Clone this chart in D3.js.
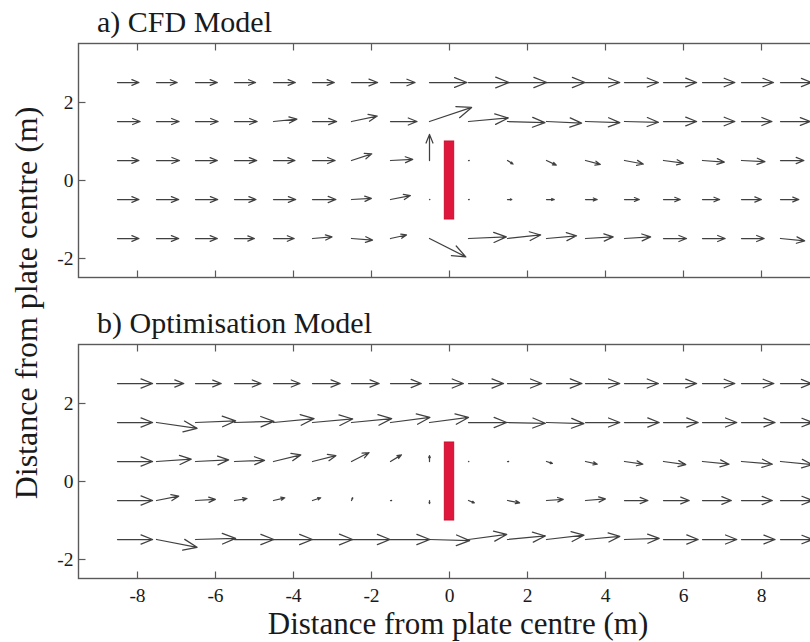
<!DOCTYPE html>
<html>
<head>
<meta charset="utf-8">
<script src="https://cdnjs.cloudflare.com/ajax/libs/d3/7.8.5/d3.min.js"></script>
<style>
  body { margin: 0; background: #fff; }
</style>
</head>
<body>
<div id="chart"></div>
<script>
// grid of the quiver plot
var xGrid = [-8.5, -7.5, -6.5, -5.5, -4.5, -3.5, -2.5, -1.5, -0.5, 0.5, 1.5, 2.5, 3.5, 4.5, 5.5, 6.5, 7.5, 8.5];
var yRows = [2.5, 1.5, 0.5, -0.5, -1.5];
var xTicks = [-8, -6, -4, -2, 0, 2, 4, 6, 8];
var yTicks = [-2, 0, 2];

// a) CFD model, one array per row (top to bottom)
var cfdU = [
  [0.55, 0.53, 0.56, 0.54, 0.56, 0.56, 0.67, 0.63, 0.96, 1.04, 1.01, 0.99, 0.88, 0.87, 0.85, 0.83, 0.82, 0.80],
  [0.58, 0.58, 0.58, 0.58, 0.60, 0.62, 0.66, 0.68, 1.08, 1.02, 0.96, 0.90, 0.88, 0.87, 0.85, 0.83, 0.78, 0.76],
  [0.55, 0.59, 0.56, 0.57, 0.55, 0.58, 0.52, 0.57, 0.00, 0.02, 0.14, 0.25, 0.38, 0.48, 0.51, 0.56, 0.60, 0.60],
  [0.55, 0.57, 0.57, 0.55, 0.57, 0.60, 0.51, 0.51, 0.01, 0.02, 0.11, 0.20, 0.30, 0.38, 0.43, 0.44, 0.51, 0.47],
  [0.55, 0.57, 0.56, 0.51, 0.53, 0.50, 0.54, 0.41, 0.93, 0.97, 0.85, 0.77, 0.71, 0.67, 0.59, 0.58, 0.58, 0.62]
];
var cfdV = [
  [0, 0, 0, 0, 0, 0, 0, 0, 0, 0, 0, 0, 0, 0, 0, 0, 0, 0],
  [0, 0, 0, 0, 0.06, 0, 0.14, 0, 0.36, 0.09, -0.03, -0.04, -0.03, -0.02, 0, 0, 0, 0],
  [0, 0, 0, 0, 0, 0, 0.17, 0.03, 0.67, 0, -0.09, -0.12, -0.10, -0.09, -0.07, -0.04, -0.03, 0],
  [0, 0, 0, 0, 0, 0, 0.03, 0.10, 0, 0, 0, 0, 0, 0, 0, 0, 0, 0],
  [0, 0, 0, 0, 0, 0.04, -0.04, 0.09, -0.47, 0.04, 0.09, 0.07, 0.04, 0.04, 0, 0, 0, -0.06]
];

// b) optimisation model
var optU = [
  [0.90, 0.70, 0.66, 0.68, 0.68, 0.71, 0.71, 0.79, 0.87, 0.90, 0.88, 0.91, 0.88, 0.87, 0.85, 0.83, 0.83, 0.80],
  [0.90, 1.04, 1.03, 1.01, 1.04, 1.03, 1.03, 1.01, 1.00, 0.98, 0.97, 0.96, 0.88, 0.89, 0.89, 0.88, 0.86, 0.82],
  [0.90, 0.89, 0.85, 0.77, 0.70, 0.60, 0.45, 0.28, 0.00, 0.01, 0.03, 0.15, 0.30, 0.47, 0.57, 0.68, 0.79, 0.82],
  [0.90, 0.57, 0.51, 0.32, 0.29, 0.21, 0.03, 0.03, 0.00, 0.15, 0.31, 0.43, 0.51, 0.60, 0.66, 0.74, 0.79, 0.82],
  [0.90, 1.04, 1.03, 1.01, 1.00, 1.03, 0.99, 1.01, 1.03, 0.98, 0.97, 0.96, 0.88, 0.89, 0.89, 0.88, 0.86, 0.82]
];
var optV = [
  [0, 0, 0, 0, 0, 0, 0, 0, 0, 0, 0, 0, 0, 0, 0, 0, 0, 0],
  [0, -0.15, 0.04, 0.03, 0.10, 0.09, 0.10, 0.13, 0.13, 0, -0.02, -0.03, 0, 0, 0, 0, 0, 0],
  [0, 0.06, 0.04, 0.03, 0.17, 0.15, 0.23, 0.17, 0.15, 0, 0, -0.05, -0.07, -0.07, -0.08, -0.07, -0.07, -0.08],
  [0, 0.11, 0.03, 0.05, 0.07, 0.07, 0.07, 0, -0.08, -0.06, -0.06, 0.03, 0.04, 0, 0, 0, 0, 0],
  [0, -0.20, 0.03, 0, 0, 0, 0, 0, -0.03, 0.13, 0.09, 0.11, 0.08, 0.03, 0, 0, 0, 0]
];

// plate: x from -0.12 to 0.12, y from -1 to 1
var plateX = [-0.12, 0.12];
var plateY = [-1, 1];

var panels = [
  { title: "a) CFD Model", u: cfdU, v: cfdV, top: 43.5, labels: false },
  { title: "b) Optimisation Model", u: optU, v: optV, top: 344.5, labels: true }
];

var serif = "'Liberation Serif', 'Times New Roman', Times, 'DejaVu Serif', serif";
var W = 810, H = 642;
var svg = d3.select("#chart").append("svg")
  .attr("width", W)
  .attr("height", H)
  .attr("font-family", serif);

var x = d3.scaleLinear().domain([-9.5, 9.5]).range([78.5, 819.5]);
var panelH = 234;
var frameColor = "#5a5a5a";
var arrowColor = "#404040";
var textColor = "#1a1a1a";

panels.forEach(function(p) {
  var y = d3.scaleLinear().domain([-2.5, 3.5]).range([p.top + panelH, p.top]);
  var g = svg.append("g");

  svg.append("text")
    .attr("x", 97)
    .attr("y", p.top - 12)
    .attr("font-family", serif)
    .attr("font-size", 30)
    .attr("fill", textColor)
    .text(p.title);

  // bottom ticks (inward)
  var bottom = g.append("g")
    .attr("transform", "translate(0," + y.range()[0] + ")")
    .call(d3.axisBottom(x).tickValues(xTicks)
      .tickSizeInner(-7).tickSizeOuter(0).tickPadding(10)
      .tickFormat(p.labels ? d3.format("d") : ""));
  // top ticks (inward)
  var top = g.append("g")
    .attr("transform", "translate(0," + y.range()[1] + ")")
    .call(d3.axisTop(x).tickValues(xTicks)
      .tickSizeInner(-7).tickSizeOuter(0).tickFormat(""));
  // left ticks
  var left = g.append("g")
    .attr("transform", "translate(" + x.range()[0] + ",0)")
    .call(d3.axisLeft(y).tickValues(yTicks)
      .tickSizeInner(-7).tickSizeOuter(0).tickPadding(5)
      .tickFormat(d3.format("d")));

  [bottom, top, left].forEach(function(a) {
    a.attr("font-family", serif).attr("font-size", 19.5);
    a.select(".domain").remove();
    a.selectAll(".tick line").attr("stroke", frameColor).attr("stroke-width", 1.2);
    a.selectAll(".tick text")
      .attr("fill", textColor)
      .text(function() { return d3.select(this).text().replace("\u2212", "-"); });
  });

  g.append("rect")
    .attr("x", x.range()[0])
    .attr("y", y.range()[1])
    .attr("width", x.range()[1] - x.range()[0])
    .attr("height", y.range()[0] - y.range()[1])
    .attr("fill", "none")
    .attr("stroke", frameColor)
    .attr("stroke-width", 1.4);

  // arrows, matlab quiver style
  var alpha = 0.33, beta = 0.4;
  yRows.forEach(function(yr, ri) {
    xGrid.forEach(function(xg, ci) {
      var x0 = x(xg), y0 = y(yr);
      var x1 = x(xg + p.u[ri][ci]), y1 = y(yr + p.v[ri][ci]);
      var dx = x1 - x0, dy = y1 - y0;
      var path = "M" + x0 + "," + y0 + "L" + x1 + "," + y1;
      if (Math.abs(dx) + Math.abs(dy) > 0.3) {
        var ax = x1 - alpha * (dx + beta * dy), ay = y1 - alpha * (dy - beta * dx);
        var bx = x1 - alpha * (dx - beta * dy), by = y1 - alpha * (dy + beta * dx);
        path += "M" + ax + "," + ay + "L" + x1 + "," + y1 + "L" + bx + "," + by;
      } else {
        path = "M" + (x0 - 0.7) + "," + y0 + "L" + (x0 + 0.7) + "," + y0;
      }
      g.append("path")
        .attr("d", path)
        .attr("fill", "none")
        .attr("stroke", arrowColor)
        .attr("stroke-width", 1.25)
        .attr("stroke-linecap", "round")
        .attr("stroke-linejoin", "round");
    });
  });

  g.append("rect")
    .attr("x", x(plateX[0]))
    .attr("y", y(plateY[1]))
    .attr("width", x(plateX[1]) - x(plateX[0]))
    .attr("height", y(plateY[0]) - y(plateY[1]))
    .attr("fill", "#e0173c")
    .attr("stroke", "#c8102e")
    .attr("stroke-width", 1);
});

svg.append("text")
  .attr("x", 458)
  .attr("y", 634)
  .attr("text-anchor", "middle")
  .attr("font-size", 31)
  .attr("fill", textColor)
  .text("Distance from plate centre (m)");

svg.append("text")
  .attr("transform", "translate(37,303) rotate(-90)")
  .attr("text-anchor", "middle")
  .attr("font-size", 32)
  .attr("fill", textColor)
  .text("Distance from plate centre (m)");
</script>
</body>
</html>
